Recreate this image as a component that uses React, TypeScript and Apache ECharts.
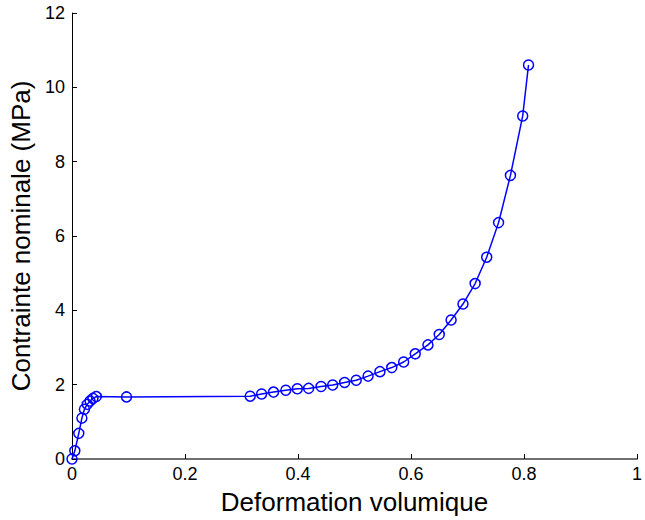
import React, { useEffect, useRef } from "react";
import * as echarts from "echarts";

const xValues = [
  0, 0.005, 0.012, 0.0175, 0.022, 0.027, 0.032, 0.037, 0.043, 0.0965,
  0.3153, 0.3356, 0.3567, 0.3784, 0.3988, 0.4188, 0.4409, 0.4614, 0.4825, 0.503,
  0.524, 0.545, 0.566, 0.587, 0.6075, 0.63, 0.65, 0.671, 0.692, 0.7135,
  0.734, 0.755, 0.776, 0.7977, 0.808,
];
const yValues = [
  0, 0.22, 0.69, 1.1, 1.34, 1.47, 1.56, 1.63, 1.68, 1.67,
  1.69, 1.75, 1.8, 1.85, 1.89, 1.9, 1.95, 1.99, 2.06, 2.12,
  2.23, 2.35, 2.46, 2.61, 2.83, 3.07, 3.35, 3.74, 4.17, 4.72,
  5.43, 6.36, 7.63, 9.23, 10.6,
];
const xTicks = { min: 0, max: 1, interval: 0.2 };
const yTicks = { min: 0, max: 12, interval: 2 };
const xTitle = "Deformation volumique";
const yTitle = "Contrainte nominale (MPa)";

export default function App() {
  const ref = useRef<HTMLDivElement>(null);
  useEffect(() => {
    if (!ref.current) return;
    document.documentElement.style.overflow = "hidden";
    document.body.style.margin = "0";
    document.body.style.overflow = "hidden";
    const chart = echarts.init(ref.current, null, { renderer: "svg", width: 645, height: 520 });
    const font = "Liberation Sans, Arial, sans-serif";
    chart.setOption({
      animation: false,
      backgroundColor: "#fff",
      grid: { left: 72, top: 13, right: 1, bottom: 57 },
      xAxis: {
        type: "value",
        min: xTicks.min,
        max: xTicks.max,
        interval: xTicks.interval,
        name: xTitle,
        nameLocation: "middle",
        nameGap: 30,
        nameTextStyle: { fontFamily: font, fontSize: 26, color: "#000" },
        axisLine: { onZero: false, lineStyle: { color: "#707070", width: 2 } },
        axisTick: { inside: true, length: 5, lineStyle: { color: "#000" } },
        axisLabel: {
          fontFamily: font,
          fontSize: 18,
          color: "#000",
          margin: 6,
          formatter: (v: number) => String(Math.round(v * 10) / 10),
        },
        splitLine: { show: false },
      },
      yAxis: {
        type: "value",
        min: yTicks.min,
        max: yTicks.max,
        interval: yTicks.interval,
        name: yTitle,
        nameLocation: "middle",
        nameGap: 34,
        nameTextStyle: { fontFamily: font, fontSize: 26, color: "#000" },
        axisLine: { show: true, onZero: false, lineStyle: { color: "#000", width: 1 } },
        axisTick: { show: true, inside: true, length: 5, lineStyle: { color: "#000" } },
        axisLabel: { fontFamily: font, fontSize: 18, color: "#000", margin: 7 },
        splitLine: { show: false },
      },
      series: [
        {
          type: "line",
          data: xValues.map((x, i) => [x, yValues[i]]),
          symbol: "circle",
          symbolSize: 10,
          showAllSymbol: true,
          clip: false,
          lineStyle: { color: "#0000ff", width: 1.5 },
          itemStyle: { color: "rgba(0,0,0,0)", borderColor: "#0000ff", borderWidth: 1.5 },
        },
      ],
    });
    return () => chart.dispose();
  }, []);
  return (
    <div
      ref={ref}
      style={{ position: "fixed", left: 0, top: 0, width: 645, height: 520, overflow: "hidden" }}
    />
  );
}
